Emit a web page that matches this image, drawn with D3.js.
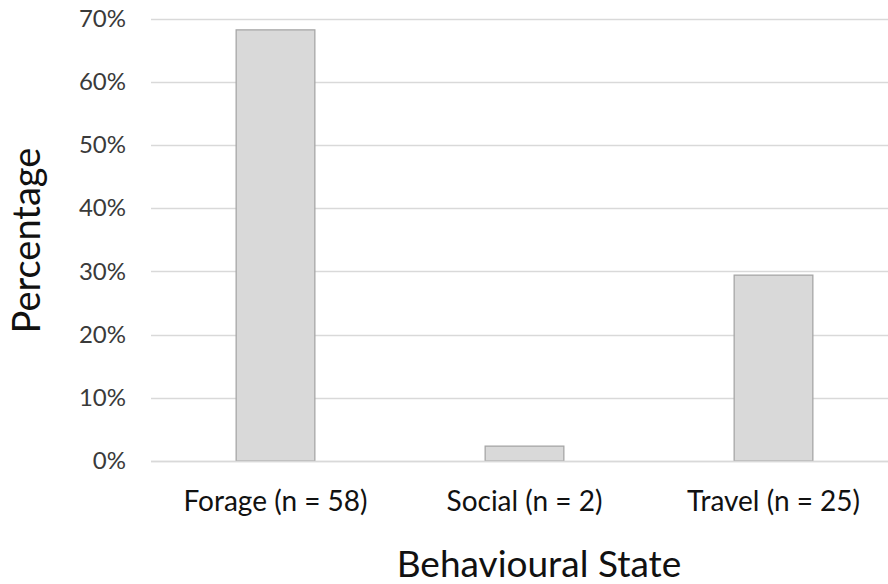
<!DOCTYPE html>
<html><head><meta charset="utf-8">
<script src="https://cdn.jsdelivr.net/npm/d3@7"></script>
<style>body{margin:0;background:#fff}svg{display:block}</style>
</head><body>
<svg id="c" width="888" height="584"></svg>
<script>
const categories = ["Forage (n = 58)", "Social (n = 2)", "Travel (n = 25)"];
const values = [0.682, 0.0235, 0.294];
const yTicks = [0, 0.1, 0.2, 0.3, 0.4, 0.5, 0.6, 0.7];
const xTitle = "Behavioural State";
const yTitle = "Percentage";

(function () {
const svg = d3.select("#c");
const font = "Lato, 'Open Sans', sans-serif";
const pLeft = 151, pRight = 898, pTop = 18.5, pBottom = 461;

const x = d3.scaleBand().domain(categories).range([pLeft, pRight]).paddingInner(0.684).paddingOuter(0.342);
const y = d3.scaleLinear().domain([0, 0.7]).range([pBottom, pTop]);

// gridlines
svg.append("g").selectAll("line").data(yTicks).join("line")
  .attr("x1", pLeft).attr("x2", 888)
  .attr("y1", d => Math.round(y(d)) + 0.5).attr("y2", d => Math.round(y(d)) + 0.5)
  .attr("stroke", "#d9d9d9").attr("stroke-width", 1.3);

// y axis labels
const ya = svg.append("g").attr("transform", `translate(${pLeft},0)`)
  .call(d3.axisLeft(y).tickValues(yTicks).tickFormat(d3.format(".0%")).tickSize(0).tickPadding(25));
ya.select(".domain").remove();
ya.selectAll("text").attr("font-family", font).attr("font-size", 24).attr("fill", "#3a3a3a");

// bars
svg.append("g").selectAll("rect").data(values).join("rect")
  .attr("x", (d, i) => x(categories[i]))
  .attr("y", d => y(d))
  .attr("width", x.bandwidth())
  .attr("height", d => y(0) - y(d))
  .attr("fill", "#d9d9d9").attr("stroke", "#a6a6a6").attr("stroke-width", 1.3);

// baseline
svg.append("line").attr("x1", pLeft).attr("x2", 888).attr("y1", pBottom + 0.5).attr("y2", pBottom + 0.5)
  .attr("stroke", "#d9d9d9").attr("stroke-width", 1.3);

// x axis labels
const xa = svg.append("g").attr("transform", `translate(0,${pBottom})`)
  .call(d3.axisBottom(x).tickSize(0).tickPadding(0));
xa.select(".domain").remove();
xa.selectAll("text").attr("dy", null).attr("y", 50)
  .attr("font-family", font).attr("font-size", 28).attr("fill", "#111");

svg.append("text").attr("x", 539).attr("y", 577).attr("text-anchor", "middle")
  .attr("font-family", font).attr("font-size", 37).attr("fill", "#111").text(xTitle);
svg.append("text").attr("transform", "translate(40,240.5) rotate(-90)").attr("text-anchor", "middle")
  .attr("font-family", font).attr("font-size", 38).attr("fill", "#111").text(yTitle);
})();
</script>
</body></html>
